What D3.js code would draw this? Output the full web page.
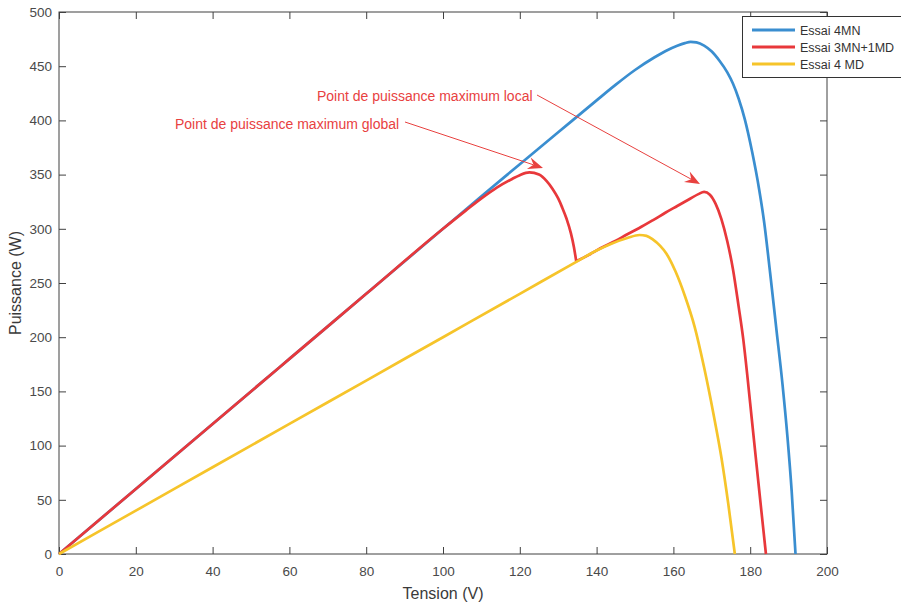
<!DOCTYPE html>
<html>
<head>
<meta charset="utf-8">
<script src="https://cdn.jsdelivr.net/npm/d3@7"></script>
<style>
  body { margin: 0; background: #fff; }
  svg { display: block; font-family: "Liberation Sans", Arial, sans-serif; }
</style>
</head>
<body>
<div id="chart"></div>
<script>
// series: tension (V) and puissance (W)
var tension4MN = [0, 20, 40, 60, 80, 100, 110, 120, 130, 140, 145, 150, 155, 158, 161, 163, 164.5, 166, 168, 170, 172, 174, 175.5, 177, 178.6, 180.5, 182.3, 183.6, 185.2, 186.8, 188.4, 189.7, 190.8, 191.8];
var puissance4MN = [0, 60, 120, 180, 240, 300, 330, 359.5, 389, 418.5, 433, 446.5, 458, 464, 468.8, 471.3, 472.5, 472, 469, 463.5, 455, 444.5, 434, 420, 401, 371, 337, 307, 259, 208, 157, 108, 58, 0];

// 3MN+1MD : two pieces joined at the cusp
var tension3MN1MDa = [0, 20, 40, 60, 80, 100, 106, 110, 114, 118, 120, 122.5, 125, 127, 128.5, 130, 131, 132.2, 133.3, 134.1, 134.7];
var puissance3MN1MDa = [0, 60, 120, 180, 240, 300, 317, 328, 338, 346, 349.5, 352, 350, 344, 337, 328, 320, 309, 296, 283, 270];
var tension3MN1MDb = [134.7, 138, 141, 145, 148, 151, 154.7, 158, 161, 164, 166.5, 168, 169.5, 171, 172.5, 174, 175.5, 177, 178.2, 179.3, 180.4, 181.6, 182.9, 184.1];
var puissance3MN1MDb = [270, 276, 282, 289, 295, 300.5, 308, 315, 321, 327, 332, 334, 331.5, 323, 309, 289, 263, 228, 198, 163, 125, 84, 40, 0];

var tension4MD = [0, 20, 40, 60, 80, 100, 120, 134.7, 140, 144, 148, 151.2, 153, 154.7, 156.5, 158.2, 160.5, 163, 165.5, 168, 170.5, 172.5, 174.3, 176];
var puissance4MD = [0, 40, 80, 120, 160, 200, 240, 269.5, 280, 286.5, 291.5, 294.3, 293.5, 290, 284.5, 277, 261, 238, 210, 172, 128, 89, 46, 0];

var xTicks = [0, 20, 40, 60, 80, 100, 120, 140, 160, 180, 200];
var yTicks = [0, 50, 100, 150, 200, 250, 300, 350, 400, 450, 500];
var legendLabels = ["Essai 4MN", "Essai 3MN+1MD", "Essai 4 MD"];
var colors = ["#3a8ed0", "#e8383b", "#f6c42a"];

var width = 901, height = 603;
var margin = {top: 12, right: 74, bottom: 49, left: 59};

var svg = d3.select("#chart").append("svg")
	.attr("width", width)
	.attr("height", height);

var x = d3.scaleLinear().domain([0, 200]).range([margin.left, width - margin.right]);
var y = d3.scaleLinear().domain([0, 500]).range([height - margin.bottom, margin.top]);

function zip(a, b) { return a.map(function(d, i) { return [d, b[i]]; }); }

var line = d3.line()
	.x(function(d) { return x(d[0]); })
	.y(function(d) { return y(d[1]); })
	.curve(d3.curveMonotoneX);

var axisColor = "#404040";

// axes, ticks pointing inward
function styleAxis(g) {
	g.select(".domain").remove();
	g.selectAll(".tick line").attr("stroke", axisColor);
	g.selectAll(".tick text").attr("fill", "#4a4a4a").style("font-size", "13.5px");
}

svg.append("g")
	.attr("transform", "translate(0," + y(0) + ")")
	.call(d3.axisBottom(x).tickValues(xTicks).tickSizeInner(-7).tickSizeOuter(0).tickPadding(12))
	.call(styleAxis);

svg.append("g")
	.attr("transform", "translate(" + x(0) + ",0)")
	.call(d3.axisLeft(y).tickValues(yTicks).tickSizeInner(-7).tickSizeOuter(0).tickPadding(7))
	.call(styleAxis);

svg.append("g")
	.attr("transform", "translate(0," + y(500) + ")")
	.call(d3.axisTop(x).tickValues(xTicks).tickSizeInner(-7).tickSizeOuter(0).tickFormat(""))
	.call(styleAxis);

svg.append("g")
	.attr("transform", "translate(" + x(200) + ",0)")
	.call(d3.axisRight(y).tickValues(yTicks).tickSizeInner(-7).tickSizeOuter(0).tickFormat(""))
	.call(styleAxis);

svg.append("rect")
	.attr("x", x(0)).attr("y", y(500))
	.attr("width", x(200) - x(0)).attr("height", y(0) - y(500))
	.attr("fill", "none").attr("stroke", axisColor).attr("stroke-width", 1);

// curves
var curves = [
	line(zip(tension4MN, puissance4MN)),
	line(zip(tension3MN1MDa, puissance3MN1MDa)) + line(zip(tension3MN1MDb, puissance3MN1MDb)).replace(/^M/, "L"),
	line(zip(tension4MD, puissance4MD))
];

svg.selectAll(".curve")
	.data(curves)
	.enter().append("path")
	.attr("class", "curve")
	.attr("d", function(d) { return d; })
	.attr("fill", "none")
	.attr("stroke", function(d, i) { return colors[i]; })
	.attr("stroke-width", 2.7)
	.attr("stroke-linejoin", "round");

// axis labels
svg.append("text")
	.attr("x", (x(0) + x(200)) / 2).attr("y", 599)
	.attr("text-anchor", "middle")
	.attr("fill", "#3a3a3a")
	.style("font-size", "16px")
	.text("Tension (V)");

svg.append("text")
	.attr("transform", "translate(21," + ((y(0) + y(500)) / 2) + ") rotate(-90)")
	.attr("text-anchor", "middle")
	.attr("fill", "#3a3a3a")
	.style("font-size", "16px")
	.text("Puissance (W)");

// annotations
var annRed = "#e8413f";
var annotations = [
	{text: "Point de puissance maximum local", tx: 317, ty: 101, from: [537, 95], to: [700, 184]},
	{text: "Point de puissance maximum global", tx: 175, ty: 128.5, from: [405, 122], to: [543, 168]}
];

annotations.forEach(function(a) {
	svg.append("text")
		.attr("x", a.tx).attr("y", a.ty)
		.attr("fill", annRed)
		.style("font-size", "14px")
		.text(a.text);

	var dx = a.to[0] - a.from[0], dy = a.to[1] - a.from[1];
	var ang = Math.atan2(dy, dx) * 180 / Math.PI;
	var len = Math.sqrt(dx * dx + dy * dy);

	svg.append("line")
		.attr("x1", a.from[0]).attr("y1", a.from[1])
		.attr("x2", a.to[0] - dx / len * 10).attr("y2", a.to[1] - dy / len * 10)
		.attr("stroke", annRed).attr("stroke-width", 1);

	svg.append("path")
		.attr("transform", "translate(" + a.to[0] + "," + a.to[1] + ") rotate(" + ang + ")")
		.attr("d", "M0,0 L-15,-6 L-10,0 L-15,6 Z")
		.attr("fill", annRed);
});

// legend
var legend = svg.append("g");
legend.append("rect")
	.attr("x", 742.5).attr("y", 16.5)
	.attr("width", 200).attr("height", 61)
	.attr("fill", "#fff").attr("stroke", "#333").attr("stroke-width", 1);

legendLabels.forEach(function(label, i) {
	var ly = 30 + i * 17;
	legend.append("line")
		.attr("x1", 752).attr("x2", 795)
		.attr("y1", ly).attr("y2", ly)
		.attr("stroke", colors[i]).attr("stroke-width", 3);
	legend.append("text")
		.attr("x", 800).attr("y", ly + 4.5)
		.attr("fill", "#333")
		.style("font-size", "12.5px")
		.text(label);
});
</script>
</body>
</html>
